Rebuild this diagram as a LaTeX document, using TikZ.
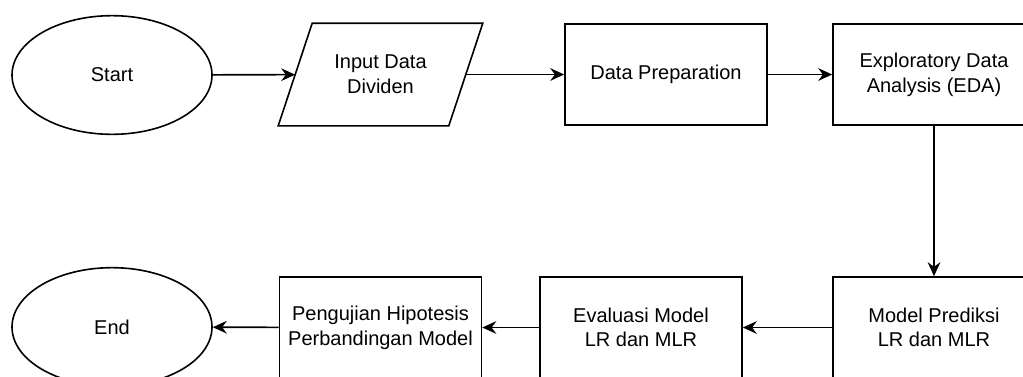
\documentclass[tikz,border=0pt]{standalone}
\usepackage{fontspec}
\setmainfont{Liberation Sans}
\usetikzlibrary{arrows.meta,shapes.geometric}

\begin{document}
\begin{tikzpicture}[x=0.75pt,y=-0.75pt,>={Stealth[length=10.5pt,width=9.5pt,inset=3.5pt]},
		every node/.style={font=\fontsize{15}{18.5}\selectfont,align=center,line width=1.2pt},
		terminal/.style={draw,ellipse,minimum width=150pt,minimum height=89pt,inner sep=0pt},
		process/.style={draw,rectangle,minimum width=151.5pt,minimum height=75.75pt,inner sep=0pt},
		io/.style={rectangle,minimum width=126.75pt,minimum height=75.75pt,inner sep=0pt}]
		\useasboundingbox (0,0) rectangle (1023,376);
		
		% The top row
		\node[terminal] (start) at (112,75) {Start};
		\node[io] (input) at (380.5,74.5) {Input Data\\Dividen};
		\draw[line width=1.2pt] ([xshift=-12.75pt]input.south west) -- ([xshift=12.75pt]input.north west)
			-- ([xshift=12.75pt]input.north east) -- ([xshift=-12.75pt]input.south east) -- cycle;
		\node[process] (prep) at (666,74.5) {Data Preparation};
		\node[process] (eda) at (934,74.5) {Exploratory Data\\Analysis (EDA)};
		
		% The bottom row
		\node[process] (model) at (934,327.5) {Model Prediksi\\LR dan MLR};
		\node[process] (eval) at (641,327.5) {Evaluasi Model\\LR dan MLR};
		\node[process] (uji) at (380.5,327.5) {Pengujian Hipotesis\\Perbandingan Model};
		\node[terminal] (end) at (112,327) {End};
		
		% The arrows
		\draw[line width=1.2pt,->] (start) -- (input);
		\draw[line width=1.2pt,->] (input) -- (prep);
		\draw[line width=1.2pt,->] (prep) -- (eda);
		\draw[line width=1.2pt,->] (eda) -- (model);
		\draw[line width=1.2pt,->] (model) -- (eval);
		\draw[line width=1.2pt,->] (eval) -- (uji);
		\draw[line width=1.2pt,->] (uji) -- (end);
	\end{tikzpicture}
\end{document}
